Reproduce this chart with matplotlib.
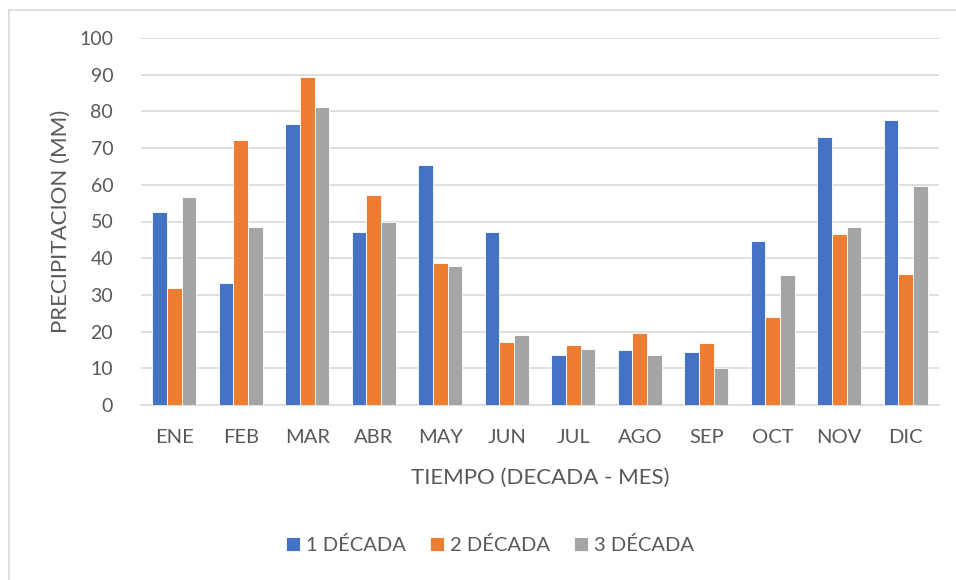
import matplotlib.pyplot as plt
import numpy as np
from matplotlib.lines import Line2D

plt.rcParams['font.family'] = ['Lato', 'DejaVu Sans']

meses = ["ENE", "FEB", "MAR", "ABR", "MAY", "JUN", "JUL", "AGO", "SEP", "OCT", "NOV", "DIC"]
decada1 = [52.7, 33.2, 76.5, 47.1, 65.4, 47.1, 13.5, 15.1, 14.5, 44.8, 73.0, 77.7]
decada2 = [31.9, 72.1, 89.5, 57.1, 38.6, 17.3, 16.3, 19.7, 17.0, 24.1, 46.5, 35.7]
decada3 = [56.8, 48.5, 81.1, 49.8, 37.9, 19.1, 15.3, 13.5, 10.0, 35.3, 48.6, 59.6]
series = ["1 DÉCADA", "2 DÉCADA", "3 DÉCADA"]
colores = ["#4472c4", "#ed7d31", "#a5a5a5"]
texto = "#595959"

fig = plt.figure(figsize=(9.56, 5.8), dpi=100)
ax = fig.add_axes([141/956, 1 - 405/580, 798/956, 367/580])

x = np.arange(len(meses))
paso = 0.22
for i, (vals, nombre, c) in enumerate(zip([decada1, decada2, decada3], series, colores)):
    ax.bar(x + (i - 1) * paso, vals, width=paso, color=c, edgecolor="white",
           linewidth=0.6, label=nombre, zorder=3)

ax.set_xlim(-0.5, len(meses) - 0.5)
ax.set_ylim(0, 100)
ax.set_yticks(range(0, 101, 10))
ax.set_xticks(x)
ax.set_xticklabels(meses)
ax.grid(axis="y", color="#d9d9d9", linewidth=1.2, zorder=0)
for s in ["top", "right", "left"]:
    ax.spines[s].set_visible(False)
ax.spines["bottom"].set_color("#d9d9d9")
ax.spines["bottom"].set_linewidth(1.2)
ax.tick_params(length=0, colors=texto)
ax.tick_params(axis="y", pad=20, labelsize=14)
ax.tick_params(axis="x", pad=17, labelsize=14.5)

ax.set_xlabel("TIEMPO (DECADA - MES)", fontsize=16, color=texto, labelpad=16)
ax.set_ylabel("PRECIPITACION (MM)", fontsize=16, color=texto, labelpad=6)

ax.legend(loc="center", bbox_to_anchor=(490/956, 1 - 545/580), bbox_transform=fig.transFigure,
          ncol=3, frameon=False, fontsize=14.5, labelcolor=texto, handlelength=0.7,
          handleheight=0.7, handletextpad=0.3, columnspacing=1.2)

# borde del grafico
fig.add_artist(Line2D([9/956, 1], [1 - 10/580, 1 - 10/580], color="#d9d9d9", linewidth=1.2))
fig.add_artist(Line2D([9/956, 9/956], [0, 1 - 10/580], color="#d9d9d9", linewidth=1.2))

fig.savefig("out.png", dpi=100)
